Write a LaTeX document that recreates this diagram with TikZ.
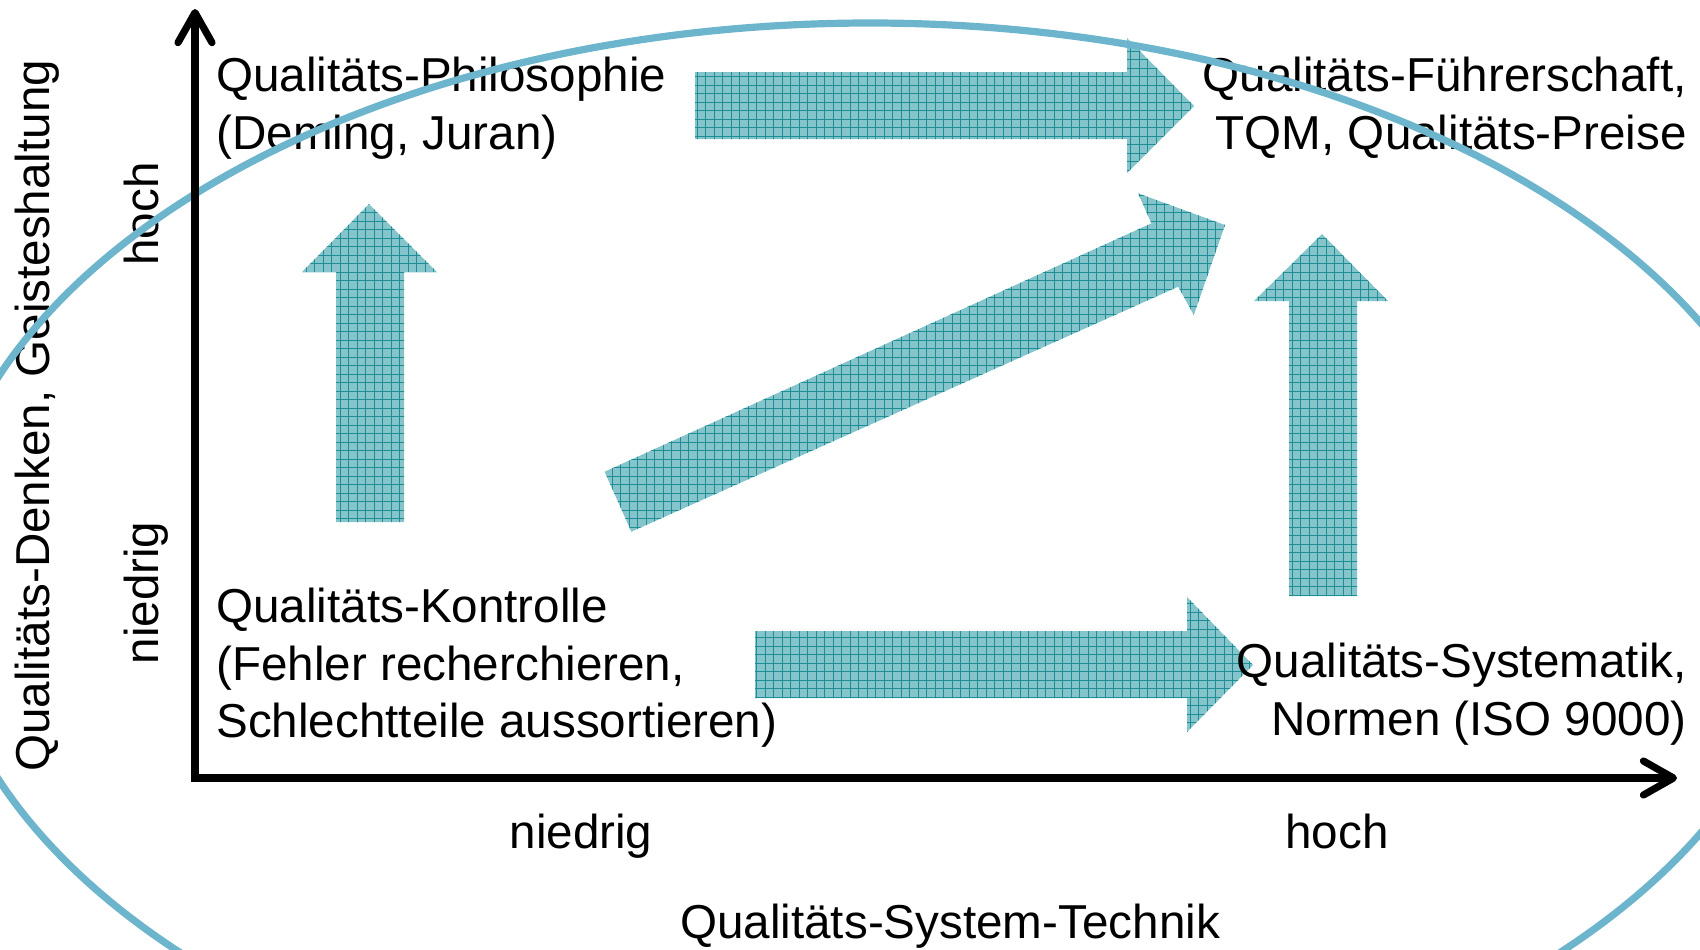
\documentclass[tikz,border=0pt]{standalone}
\usepackage{fontspec}
\setmainfont{Liberation Sans}
\usetikzlibrary{arrows.meta}
\definecolor{ellblue}{RGB}{108,181,205}
\definecolor{arrfill}{RGB}{132,196,202}
\definecolor{arrgrid}{RGB}{30,142,150}
\begin{document}
\begin{tikzpicture}[x=0.5pt,y=-0.5pt,
  lbl/.style={inner sep=0pt, font=\fontsize{23.8pt}{28.7pt}\selectfont},
  fatfill/.style={fill=arrfill},
  gridline/.style={draw=arrgrid, line width=0.28pt},
  ring/.style={draw=ellblue, line width=3.6pt},
  axisline/.style={line width=3.6pt, line join=miter,
    {Straight Barb[length=15pt,width=17pt,round]}-{Straight Barb[length=15pt,width=17pt,round]}}]
\useasboundingbox (0,0) rectangle (1700,949);
\clip (0,0) rectangle (1700,949);
% block arrows
\def\ArrTop{(695,72) -- (1127,72) -- (1127,38) -- (1194,106) -- (1127,173) -- (1127,139) -- (695,139) -- cycle}
\def\ArrBot{(755,631) -- (1187,631) -- (1187,597) -- (1253,665) -- (1187,732) -- (1187,698) -- (755,698) -- cycle}
\def\ArrLeft{(336,522) -- (336,272) -- (302,272) -- (369,204) -- (437,272) -- (404,272) -- (404,522) -- cycle}
\def\ArrRight{(1289,596) -- (1289,301) -- (1254,301) -- (1322,234) -- (1388,301) -- (1357,301) -- (1357,596) -- cycle}
\def\ArrDiag{(604.6,471.7) -- (1151.4,223.3) -- (1138,193.3) -- (1225,225) -- (1193.8,315) -- (1178.2,286.7) -- (631.3,531.7) -- cycle}
\fill[fatfill] \ArrTop \ArrBot \ArrLeft \ArrRight \ArrDiag;
\begin{scope}
  \clip \ArrTop \ArrBot \ArrLeft \ArrRight \ArrDiag;
  \draw[gridline, step=4.25pt] (0,0) grid (1700,949);
\end{scope}
% quadrant texts
\node[lbl, anchor=north west, align=left] (phil) at (216,57) {Qualitäts-Philosophie\\(Deming, Juran)};
\node[lbl, anchor=north east, align=right] (tqm) at (1687,57) {Qualitäts-Führerschaft,\\TQM, Qualitäts-Preise};
\node[lbl, anchor=north west, align=left] (kontr) at (216,588) {Qualitäts-Kontrolle\\(Fehler recherchieren,\\Schlechtteile aussortieren)};
\node[lbl, anchor=north east, align=right] (syst) at (1687,643) {Qualitäts-Systematik,\\Normen (ISO 9000)};
% axis labels
\node[lbl, anchor=base] (xlow) at (581,848) {niedrig};
\node[lbl, anchor=base] (xhigh) at (1337,848) {hoch};
\node[lbl, anchor=base] (xtitle) at (950,938) {Qualitäts-System-Technik};
\node[lbl, rotate=90, anchor=base] (yhigh) at (158,214) {hoch};
\node[lbl, rotate=90, anchor=base] (ylow) at (158,593) {niedrig};
\node[lbl, rotate=90, anchor=base west] (ytitle) at (49,772) {Qualitäts-Denken, Geisteshaltung};
% ellipse
\draw[ring] (870,578) ellipse [x radius=467.5pt, y radius=277.5pt];
% axes
\coordinate (ytop) at (195,9);
\coordinate (origin) at (195,778);
\coordinate (xend) at (1677,778);
\draw[axisline] (ytop) -- (origin) -- (xend);
\end{tikzpicture}
\end{document}
